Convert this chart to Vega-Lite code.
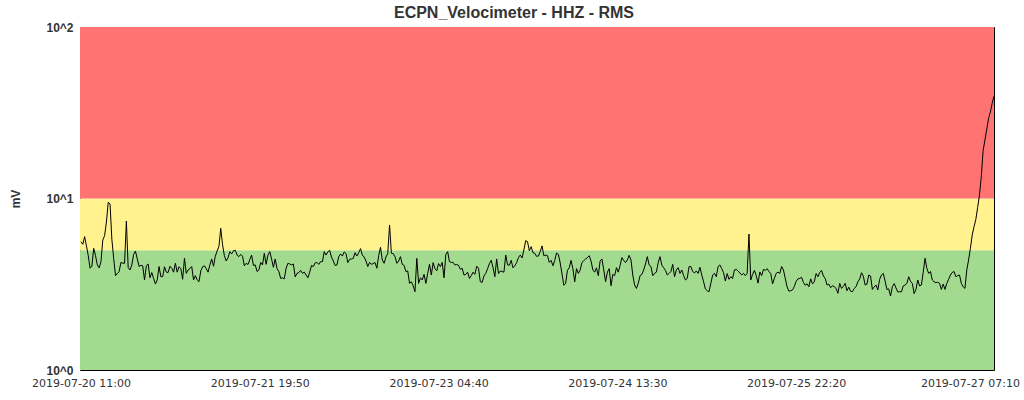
{
"$schema": "https://vega.github.io/schema/vega-lite/v6.json",
"width": 914,
"height": 343,
"autosize": {"type": "none"},
"padding": {"left": 80, "top": 27, "right": 30, "bottom": 30},
"background": "white",
"title": {"text": "ECPN_Velocimeter - HHZ - RMS", "font": "Liberation Sans", "fontSize": 16, "fontWeight": "bold", "color": "#333333", "anchor": "middle", "dx": -23, "offset": 0},
"config": {"view": {"stroke": "black", "strokeWidth": 1}, "axis": {"grid": false, "ticks": false, "domain": false}},
"layer": [
{
"data": {"values": [{"band": "green", "lo": 1, "hi": 5}, {"band": "yellow", "lo": 5, "hi": 10}, {"band": "red", "lo": 10, "hi": 100}]},
"mark": {"type": "rect"},
"encoding": {
"y": {"field": "lo", "type": "quantitative", "scale": {"type": "log", "domain": [1, 100], "nice": false},
"axis": {"title": "mV", "values": [1, 10, 100], "labelExpr": "datum.value == 1 ? '10^0' : datum.value == 10 ? '10^1' : '10^2'", "labelFont": "Liberation Sans", "labelFontSize": 12, "labelFontWeight": "bold", "labelColor": "#333333", "labelPadding": 7, "labelFlush": false, "titleFont": "Liberation Sans", "titleFontSize": 12, "titleFontWeight": "bold", "titleColor": "#333333", "titleX": -65, "titleY": 171.5, "titleAlign": "center", "titleBaseline": "middle"}},
"y2": {"field": "hi"},
"color": {"field": "band", "type": "nominal", "scale": {"domain": ["green", "yellow", "red"], "range": ["#a2da8f", "#fff28f", "#ff7373"]}, "legend": null}
}
},
{
"data": {"format": {"parse": {"t": "utc:'%Y-%m-%d %H:%M'"}}, "values": [
{"t":"2019-07-20 11:00","v":5.60},{"t":"2019-07-20 11:20","v":5.41},{"t":"2019-07-20 11:40","v":5.99},{"t":"2019-07-20 12:00","v":5.29},{"t":"2019-07-20 12:20","v":4.64},{"t":"2019-07-20 12:40","v":3.92},{"t":"2019-07-20 13:00","v":4.03},{"t":"2019-07-20 13:20","v":5.12},{"t":"2019-07-20 13:40","v":4.64},{"t":"2019-07-20 14:00","v":4.10},{"t":"2019-07-20 14:20","v":3.94},{"t":"2019-07-20 14:40","v":4.28},{"t":"2019-07-20 15:00","v":5.72},{"t":"2019-07-20 15:20","v":6.07},{"t":"2019-07-20 15:40","v":7.29},{"t":"2019-07-20 16:00","v":9.5},{"t":"2019-07-20 16:20","v":9.3},{"t":"2019-07-20 16:40","v":5.8},{"t":"2019-07-20 17:00","v":4.48},{"t":"2019-07-20 17:20","v":3.55},{"t":"2019-07-20 17:40","v":3.65},{"t":"2019-07-20 18:00","v":3.75},{"t":"2019-07-20 18:20","v":4.24},{"t":"2019-07-20 18:40","v":4.2},{"t":"2019-07-20 19:00","v":4.19},{"t":"2019-07-20 19:20","v":7.39},{"t":"2019-07-20 19:40","v":3.95},{"t":"2019-07-20 20:00","v":3.83},{"t":"2019-07-20 20:20","v":4.10},{"t":"2019-07-20 20:40","v":4.72},{"t":"2019-07-20 21:00","v":4.94},{"t":"2019-07-20 21:20","v":4.44},{"t":"2019-07-20 21:40","v":4.01},{"t":"2019-07-20 22:00","v":4.08},{"t":"2019-07-20 22:20","v":4.05},{"t":"2019-07-20 22:40","v":3.35},{"t":"2019-07-20 23:00","v":4.05},{"t":"2019-07-20 23:20","v":4.15},{"t":"2019-07-20 23:40","v":3.45},
{"t":"2019-07-21 00:00","v":3.70},{"t":"2019-07-21 00:20","v":3.42},{"t":"2019-07-21 00:40","v":3.17},{"t":"2019-07-21 01:00","v":3.35},{"t":"2019-07-21 01:20","v":4.01},{"t":"2019-07-21 01:40","v":3.50},{"t":"2019-07-21 02:00","v":3.50},{"t":"2019-07-21 02:20","v":4.00},{"t":"2019-07-21 02:40","v":3.72},{"t":"2019-07-21 03:00","v":3.70},{"t":"2019-07-21 03:20","v":4.03},{"t":"2019-07-21 03:40","v":3.92},{"t":"2019-07-21 04:00","v":3.72},{"t":"2019-07-21 04:20","v":4.19},{"t":"2019-07-21 04:40","v":3.72},{"t":"2019-07-21 05:00","v":4.00},{"t":"2019-07-21 05:20","v":3.90},{"t":"2019-07-21 05:40","v":3.38},{"t":"2019-07-21 06:00","v":4.48},{"t":"2019-07-21 06:20","v":3.66},{"t":"2019-07-21 06:40","v":3.83},{"t":"2019-07-21 07:00","v":3.90},{"t":"2019-07-21 07:20","v":4.01},{"t":"2019-07-21 07:40","v":3.35},{"t":"2019-07-21 08:00","v":3.55},{"t":"2019-07-21 08:20","v":3.35},{"t":"2019-07-21 08:40","v":3.27},{"t":"2019-07-21 09:00","v":3.78},{"t":"2019-07-21 09:20","v":4.00},{"t":"2019-07-21 09:40","v":4.05},{"t":"2019-07-21 10:00","v":3.9},{"t":"2019-07-21 10:20","v":3.72},{"t":"2019-07-21 10:40","v":4.10},{"t":"2019-07-21 11:00","v":4.44},{"t":"2019-07-21 11:20","v":4.03},{"t":"2019-07-21 11:40","v":4.60},{"t":"2019-07-21 12:00","v":4.94},{"t":"2019-07-21 12:20","v":5.26},{"t":"2019-07-21 12:40","v":6.7},{"t":"2019-07-21 13:00","v":5.36},{"t":"2019-07-21 13:20","v":4.64},{"t":"2019-07-21 13:40","v":4.32},{"t":"2019-07-21 14:00","v":4.52},{"t":"2019-07-21 14:20","v":4.90},{"t":"2019-07-21 14:40","v":4.75},{"t":"2019-07-21 15:00","v":4.96},{"t":"2019-07-21 15:20","v":4.99},{"t":"2019-07-21 15:40","v":4.68},{"t":"2019-07-21 16:00","v":4.58},{"t":"2019-07-21 16:20","v":4.72},{"t":"2019-07-21 16:40","v":4.60},{"t":"2019-07-21 17:00","v":4.05},{"t":"2019-07-21 17:20","v":4.19},{"t":"2019-07-21 17:40","v":4.12},{"t":"2019-07-21 18:00","v":4.40},{"t":"2019-07-21 18:20","v":4.68},{"t":"2019-07-21 18:40","v":4.07},{"t":"2019-07-21 19:00","v":4.10},{"t":"2019-07-21 19:20","v":3.75},{"t":"2019-07-21 19:40","v":3.83},{"t":"2019-07-21 20:00","v":4.24},{"t":"2019-07-21 20:20","v":4.10},{"t":"2019-07-21 20:40","v":4.79},{"t":"2019-07-21 21:00","v":4.13},{"t":"2019-07-21 21:20","v":4.68},{"t":"2019-07-21 21:40","v":4.90},{"t":"2019-07-21 22:00","v":4.44},{"t":"2019-07-21 22:20","v":3.97},{"t":"2019-07-21 22:40","v":4.44},{"t":"2019-07-21 23:00","v":3.90},{"t":"2019-07-21 23:20","v":3.75},{"t":"2019-07-21 23:40","v":3.42},
{"t":"2019-07-22 00:00","v":3.45},{"t":"2019-07-22 00:20","v":3.40},{"t":"2019-07-22 00:40","v":3.92},{"t":"2019-07-22 01:00","v":4.19},{"t":"2019-07-22 01:20","v":4.15},{"t":"2019-07-22 01:40","v":4.10},{"t":"2019-07-22 02:00","v":4.15},{"t":"2019-07-22 02:20","v":3.49},{"t":"2019-07-22 02:40","v":3.66},{"t":"2019-07-22 03:00","v":3.70},{"t":"2019-07-22 03:20","v":3.81},{"t":"2019-07-22 03:40","v":3.66},{"t":"2019-07-22 04:00","v":3.72},{"t":"2019-07-22 04:20","v":3.58},{"t":"2019-07-22 04:40","v":3.45},{"t":"2019-07-22 05:00","v":3.72},{"t":"2019-07-22 05:20","v":4.07},{"t":"2019-07-22 05:40","v":4.01},{"t":"2019-07-22 06:00","v":4.21},{"t":"2019-07-22 06:20","v":4.24},{"t":"2019-07-22 06:40","v":4.13},{"t":"2019-07-22 07:00","v":4.28},{"t":"2019-07-22 07:20","v":4.28},{"t":"2019-07-22 07:40","v":4.90},{"t":"2019-07-22 08:00","v":4.68},{"t":"2019-07-22 08:20","v":4.88},{"t":"2019-07-22 08:40","v":4.99},{"t":"2019-07-22 09:00","v":4.56},{"t":"2019-07-22 09:20","v":4.32},{"t":"2019-07-22 09:40","v":4.07},{"t":"2019-07-22 10:00","v":4.10},{"t":"2019-07-22 10:20","v":4.58},{"t":"2019-07-22 10:40","v":4.75},{"t":"2019-07-22 11:00","v":4.62},{"t":"2019-07-22 11:20","v":4.88},{"t":"2019-07-22 11:40","v":4.77},{"t":"2019-07-22 12:00","v":4.23},{"t":"2019-07-22 12:20","v":4.42},{"t":"2019-07-22 12:40","v":4.44},{"t":"2019-07-22 13:00","v":4.48},{"t":"2019-07-22 13:20","v":4.83},{"t":"2019-07-22 13:40","v":4.62},{"t":"2019-07-22 14:00","v":4.83},{"t":"2019-07-22 14:20","v":5.10},{"t":"2019-07-22 14:40","v":4.68},{"t":"2019-07-22 15:00","v":4.56},{"t":"2019-07-22 15:20","v":4.32},{"t":"2019-07-22 15:40","v":4.01},{"t":"2019-07-22 16:00","v":4.24},{"t":"2019-07-22 16:20","v":4.13},{"t":"2019-07-22 16:40","v":4.18},{"t":"2019-07-22 17:00","v":4.23},{"t":"2019-07-22 17:20","v":3.92},{"t":"2019-07-22 17:40","v":4.64},{"t":"2019-07-22 18:00","v":5.19},{"t":"2019-07-22 18:20","v":4.38},{"t":"2019-07-22 18:40","v":4.19},{"t":"2019-07-22 19:00","v":4.56},{"t":"2019-07-22 19:20","v":4.77},{"t":"2019-07-22 19:40","v":7.01},{"t":"2019-07-22 20:00","v":4.79},{"t":"2019-07-22 20:20","v":4.77},{"t":"2019-07-22 20:40","v":4.58},{"t":"2019-07-22 21:00","v":4.19},{"t":"2019-07-22 21:20","v":4.32},{"t":"2019-07-22 21:40","v":4.58},{"t":"2019-07-22 22:00","v":4.13},{"t":"2019-07-22 22:20","v":4.07},{"t":"2019-07-22 22:40","v":3.75},{"t":"2019-07-22 23:00","v":3.78},{"t":"2019-07-22 23:20","v":3.20},{"t":"2019-07-22 23:40","v":3.27},
{"t":"2019-07-23 00:00","v":3.10},{"t":"2019-07-23 00:20","v":2.86},{"t":"2019-07-23 00:40","v":4.48},{"t":"2019-07-23 01:00","v":3.20},{"t":"2019-07-23 01:20","v":3.45},{"t":"2019-07-23 01:40","v":3.35},{"t":"2019-07-23 02:00","v":3.61},{"t":"2019-07-23 02:20","v":3.20},{"t":"2019-07-23 02:40","v":3.65},{"t":"2019-07-23 03:00","v":4.13},{"t":"2019-07-23 03:20","v":3.58},{"t":"2019-07-23 03:40","v":4.23},{"t":"2019-07-23 04:00","v":3.90},{"t":"2019-07-23 04:20","v":3.79},{"t":"2019-07-23 04:40","v":4.17},{"t":"2019-07-23 05:00","v":4.01},{"t":"2019-07-23 05:20","v":4.24},{"t":"2019-07-23 05:40","v":3.45},{"t":"2019-07-23 06:00","v":4.72},{"t":"2019-07-23 06:20","v":4.90},{"t":"2019-07-23 06:40","v":4.28},{"t":"2019-07-23 07:00","v":4.24},{"t":"2019-07-23 07:20","v":4.24},{"t":"2019-07-23 07:40","v":4.10},{"t":"2019-07-23 08:00","v":4.12},{"t":"2019-07-23 08:20","v":4.08},{"t":"2019-07-23 08:40","v":3.86},{"t":"2019-07-23 09:00","v":3.92},{"t":"2019-07-23 09:20","v":3.58},{"t":"2019-07-23 09:40","v":3.61},{"t":"2019-07-23 10:00","v":3.72},{"t":"2019-07-23 10:20","v":3.42},{"t":"2019-07-23 10:40","v":3.55},{"t":"2019-07-23 11:00","v":3.72},{"t":"2019-07-23 11:20","v":3.61},{"t":"2019-07-23 11:40","v":4.03},{"t":"2019-07-23 12:00","v":3.92},{"t":"2019-07-23 12:20","v":3.27},{"t":"2019-07-23 12:40","v":3.24},{"t":"2019-07-23 13:00","v":3.53},{"t":"2019-07-23 13:20","v":3.66},{"t":"2019-07-23 13:40","v":3.90},{"t":"2019-07-23 14:00","v":4.17},{"t":"2019-07-23 14:20","v":4.36},{"t":"2019-07-23 14:40","v":3.95},{"t":"2019-07-23 15:00","v":3.50},{"t":"2019-07-23 15:20","v":4.44},{"t":"2019-07-23 15:40","v":3.65},{"t":"2019-07-23 16:00","v":3.78},{"t":"2019-07-23 16:20","v":3.75},{"t":"2019-07-23 16:40","v":3.72},{"t":"2019-07-23 17:00","v":4.68},{"t":"2019-07-23 17:20","v":4.10},{"t":"2019-07-23 17:40","v":4.08},{"t":"2019-07-23 18:00","v":4.36},{"t":"2019-07-23 18:20","v":3.94},{"t":"2019-07-23 18:40","v":4.05},{"t":"2019-07-23 19:00","v":4.23},{"t":"2019-07-23 19:20","v":4.52},{"t":"2019-07-23 19:40","v":4.68},{"t":"2019-07-23 20:00","v":4.50},{"t":"2019-07-23 20:20","v":5.01},{"t":"2019-07-23 20:40","v":5.68},{"t":"2019-07-23 21:00","v":5.60},{"t":"2019-07-23 21:20","v":4.96},{"t":"2019-07-23 21:40","v":5.24},{"t":"2019-07-23 22:00","v":4.83},{"t":"2019-07-23 22:20","v":4.79},{"t":"2019-07-23 22:40","v":4.60},{"t":"2019-07-23 23:00","v":4.62},{"t":"2019-07-23 23:20","v":4.9},{"t":"2019-07-23 23:40","v":5.29},
{"t":"2019-07-24 00:00","v":4.64},{"t":"2019-07-24 00:20","v":4.68},{"t":"2019-07-24 00:40","v":4.64},{"t":"2019-07-24 01:00","v":4.24},{"t":"2019-07-24 01:20","v":4.36},{"t":"2019-07-24 01:40","v":4.05},{"t":"2019-07-24 02:00","v":4.36},{"t":"2019-07-24 02:20","v":4.81},{"t":"2019-07-24 02:40","v":4.72},{"t":"2019-07-24 03:00","v":4.21},{"t":"2019-07-24 03:20","v":3.63},{"t":"2019-07-24 03:40","v":3.12},{"t":"2019-07-24 04:00","v":3.20},{"t":"2019-07-24 04:20","v":3.81},{"t":"2019-07-24 04:40","v":3.95},{"t":"2019-07-24 05:00","v":4.36},{"t":"2019-07-24 05:20","v":3.90},{"t":"2019-07-24 05:40","v":3.27},{"t":"2019-07-24 06:00","v":3.90},{"t":"2019-07-24 06:20","v":3.66},{"t":"2019-07-24 06:40","v":3.83},{"t":"2019-07-24 07:00","v":4.24},{"t":"2019-07-24 07:20","v":4.34},{"t":"2019-07-24 07:40","v":4.44},{"t":"2019-07-24 08:00","v":4.52},{"t":"2019-07-24 08:20","v":4.64},{"t":"2019-07-24 08:40","v":4.32},{"t":"2019-07-24 09:00","v":3.83},{"t":"2019-07-24 09:20","v":3.72},{"t":"2019-07-24 09:40","v":3.94},{"t":"2019-07-24 10:00","v":3.55},{"t":"2019-07-24 10:20","v":4.32},{"t":"2019-07-24 10:40","v":4.44},{"t":"2019-07-24 11:00","v":3.83},{"t":"2019-07-24 11:20","v":3.27},{"t":"2019-07-24 11:40","v":3.72},{"t":"2019-07-24 12:00","v":3.90},{"t":"2019-07-24 12:20","v":3.10},{"t":"2019-07-24 12:40","v":3.61},{"t":"2019-07-24 13:00","v":3.55},{"t":"2019-07-24 13:20","v":3.95},{"t":"2019-07-24 13:40","v":3.72},{"t":"2019-07-24 14:00","v":4.07},{"t":"2019-07-24 14:20","v":4.52},{"t":"2019-07-24 14:40","v":4.35},{"t":"2019-07-24 15:00","v":4.23},{"t":"2019-07-24 15:20","v":4.38},{"t":"2019-07-24 15:40","v":4.66},{"t":"2019-07-24 16:00","v":4.38},{"t":"2019-07-24 16:20","v":3.58},{"t":"2019-07-24 16:40","v":3.13},{"t":"2019-07-24 17:00","v":2.99},{"t":"2019-07-24 17:20","v":3.20},{"t":"2019-07-24 17:40","v":3.55},{"t":"2019-07-24 18:00","v":3.61},{"t":"2019-07-24 18:20","v":3.83},{"t":"2019-07-24 18:40","v":4.15},{"t":"2019-07-24 19:00","v":4.58},{"t":"2019-07-24 19:20","v":4.10},{"t":"2019-07-24 19:40","v":4.01},{"t":"2019-07-24 20:00","v":3.55},{"t":"2019-07-24 20:20","v":3.66},{"t":"2019-07-24 20:40","v":3.72},{"t":"2019-07-24 21:00","v":4.24},{"t":"2019-07-24 21:20","v":4.58},{"t":"2019-07-24 21:40","v":4.08},{"t":"2019-07-24 22:00","v":3.95},{"t":"2019-07-24 22:20","v":3.81},{"t":"2019-07-24 22:40","v":3.58},{"t":"2019-07-24 23:00","v":3.66},{"t":"2019-07-24 23:20","v":3.75},{"t":"2019-07-24 23:40","v":4.13},
{"t":"2019-07-25 00:00","v":3.50},{"t":"2019-07-25 00:20","v":3.83},{"t":"2019-07-25 00:40","v":3.95},{"t":"2019-07-25 01:00","v":3.66},{"t":"2019-07-25 01:20","v":3.83},{"t":"2019-07-25 01:40","v":3.55},{"t":"2019-07-25 02:00","v":3.35},{"t":"2019-07-25 02:20","v":3.42},{"t":"2019-07-25 02:40","v":4.01},{"t":"2019-07-25 03:00","v":4.01},{"t":"2019-07-25 03:20","v":3.75},{"t":"2019-07-25 03:40","v":3.68},{"t":"2019-07-25 04:00","v":3.78},{"t":"2019-07-25 04:20","v":3.66},{"t":"2019-07-25 04:40","v":3.97},{"t":"2019-07-25 05:00","v":3.58},{"t":"2019-07-25 05:20","v":3.27},{"t":"2019-07-25 05:40","v":2.97},{"t":"2019-07-25 06:00","v":2.9},{"t":"2019-07-25 06:20","v":2.86},{"t":"2019-07-25 06:40","v":3.20},{"t":"2019-07-25 07:00","v":3.58},{"t":"2019-07-25 07:20","v":3.66},{"t":"2019-07-25 07:40","v":3.50},{"t":"2019-07-25 08:00","v":4.01},{"t":"2019-07-25 08:20","v":4.10},{"t":"2019-07-25 08:40","v":3.90},{"t":"2019-07-25 09:00","v":3.70},{"t":"2019-07-25 09:20","v":3.30},{"t":"2019-07-25 09:40","v":3.65},{"t":"2019-07-25 10:00","v":3.38},{"t":"2019-07-25 10:20","v":3.50},{"t":"2019-07-25 10:40","v":3.42},{"t":"2019-07-25 11:00","v":3.83},{"t":"2019-07-25 11:20","v":3.86},{"t":"2019-07-25 11:40","v":3.78},{"t":"2019-07-25 12:00","v":3.68},{"t":"2019-07-25 12:20","v":3.58},{"t":"2019-07-25 12:40","v":3.66},{"t":"2019-07-25 13:00","v":3.55},{"t":"2019-07-25 13:20","v":3.66},{"t":"2019-07-25 13:40","v":6.2},{"t":"2019-07-25 14:00","v":3.35},{"t":"2019-07-25 14:20","v":3.61},{"t":"2019-07-25 14:40","v":3.81},{"t":"2019-07-25 15:00","v":3.55},{"t":"2019-07-25 15:20","v":3.21},{"t":"2019-07-25 15:40","v":3.73},{"t":"2019-07-25 16:00","v":3.55},{"t":"2019-07-25 16:20","v":3.86},{"t":"2019-07-25 16:40","v":3.81},{"t":"2019-07-25 17:00","v":3.90},{"t":"2019-07-25 17:20","v":3.75},{"t":"2019-07-25 17:40","v":3.65},{"t":"2019-07-25 18:00","v":3.18},{"t":"2019-07-25 18:20","v":3.42},{"t":"2019-07-25 18:40","v":3.66},{"t":"2019-07-25 19:00","v":3.72},{"t":"2019-07-25 19:20","v":3.66},{"t":"2019-07-25 19:40","v":4.01},{"t":"2019-07-25 20:00","v":3.83},{"t":"2019-07-25 20:20","v":3.42},{"t":"2019-07-25 20:40","v":3.06},{"t":"2019-07-25 21:00","v":2.88},{"t":"2019-07-25 21:20","v":2.9},{"t":"2019-07-25 21:40","v":2.93},{"t":"2019-07-25 22:00","v":3.07},{"t":"2019-07-25 22:20","v":3.29},{"t":"2019-07-25 22:40","v":3.40},{"t":"2019-07-25 23:00","v":3.42},{"t":"2019-07-25 23:20","v":3.47},{"t":"2019-07-25 23:40","v":3.24},
{"t":"2019-07-26 00:00","v":3.12},{"t":"2019-07-26 00:20","v":3.18},{"t":"2019-07-26 00:40","v":3.06},{"t":"2019-07-26 01:00","v":3.40},{"t":"2019-07-26 01:20","v":3.18},{"t":"2019-07-26 01:40","v":3.27},{"t":"2019-07-26 02:00","v":3.65},{"t":"2019-07-26 02:20","v":3.50},{"t":"2019-07-26 02:40","v":3.70},{"t":"2019-07-26 03:00","v":3.81},{"t":"2019-07-26 03:20","v":3.53},{"t":"2019-07-26 03:40","v":3.42},{"t":"2019-07-26 04:00","v":3.13},{"t":"2019-07-26 04:20","v":3.17},{"t":"2019-07-26 04:40","v":3.02},{"t":"2019-07-26 05:00","v":3.10},{"t":"2019-07-26 05:20","v":3.06},{"t":"2019-07-26 05:40","v":2.99},{"t":"2019-07-26 06:00","v":2.80},{"t":"2019-07-26 06:20","v":3.20},{"t":"2019-07-26 06:40","v":2.99},{"t":"2019-07-26 07:00","v":3.07},{"t":"2019-07-26 07:20","v":3.20},{"t":"2019-07-26 07:40","v":2.90},{"t":"2019-07-26 08:00","v":3.04},{"t":"2019-07-26 08:20","v":2.88},{"t":"2019-07-26 08:40","v":2.86},{"t":"2019-07-26 09:00","v":2.99},{"t":"2019-07-26 09:20","v":3.06},{"t":"2019-07-26 09:40","v":3.27},{"t":"2019-07-26 10:00","v":3.39},{"t":"2019-07-26 10:20","v":3.69},{"t":"2019-07-26 10:40","v":3.53},{"t":"2019-07-26 11:00","v":3.13},{"t":"2019-07-26 11:20","v":3.17},{"t":"2019-07-26 11:40","v":3.58},{"t":"2019-07-26 12:00","v":3.53},{"t":"2019-07-26 12:20","v":2.95},{"t":"2019-07-26 12:40","v":3.05},{"t":"2019-07-26 13:00","v":3.13},{"t":"2019-07-26 13:20","v":2.93},{"t":"2019-07-26 13:40","v":3.38},{"t":"2019-07-26 14:00","v":3.58},{"t":"2019-07-26 14:20","v":3.66},{"t":"2019-07-26 14:40","v":3.30},{"t":"2019-07-26 15:00","v":2.95},{"t":"2019-07-26 15:20","v":2.97},{"t":"2019-07-26 15:40","v":2.70},{"t":"2019-07-26 16:00","v":3.06},{"t":"2019-07-26 16:20","v":3.19},{"t":"2019-07-26 16:40","v":3.01},{"t":"2019-07-26 17:00","v":2.85},{"t":"2019-07-26 17:20","v":2.86},{"t":"2019-07-26 17:40","v":2.86},{"t":"2019-07-26 18:00","v":3.09},{"t":"2019-07-26 18:20","v":3.13},{"t":"2019-07-26 18:40","v":3.20},{"t":"2019-07-26 19:00","v":3.50},{"t":"2019-07-26 19:20","v":3.29},{"t":"2019-07-26 19:40","v":3.20},{"t":"2019-07-26 20:00","v":2.79},{"t":"2019-07-26 20:20","v":2.95},{"t":"2019-07-26 20:40","v":3.35},{"t":"2019-07-26 21:00","v":3.09},{"t":"2019-07-26 21:20","v":3.13},{"t":"2019-07-26 21:40","v":3.71},{"t":"2019-07-26 22:00","v":4.48},{"t":"2019-07-26 22:20","v":3.92},{"t":"2019-07-26 22:40","v":3.66},{"t":"2019-07-26 23:00","v":3.75},{"t":"2019-07-26 23:20","v":3.35},{"t":"2019-07-26 23:40","v":3.27},
{"t":"2019-07-27 00:00","v":3.23},{"t":"2019-07-27 00:20","v":3.25},{"t":"2019-07-27 00:40","v":3.20},{"t":"2019-07-27 01:00","v":2.95},{"t":"2019-07-27 01:20","v":3.17},{"t":"2019-07-27 01:40","v":2.95},{"t":"2019-07-27 02:00","v":3.20},{"t":"2019-07-27 02:20","v":3.38},{"t":"2019-07-27 02:40","v":3.58},{"t":"2019-07-27 03:00","v":3.71},{"t":"2019-07-27 03:20","v":3.75},{"t":"2019-07-27 03:40","v":3.50},{"t":"2019-07-27 04:00","v":3.55},{"t":"2019-07-27 04:20","v":3.58},{"t":"2019-07-27 04:40","v":3.20},{"t":"2019-07-27 05:00","v":3.06},{"t":"2019-07-27 05:20","v":2.99},{"t":"2019-07-27 05:40","v":3.83},{"t":"2019-07-27 06:00","v":4.38},{"t":"2019-07-27 06:20","v":5.12},{"t":"2019-07-27 06:40","v":6.13},{"t":"2019-07-27 07:00","v":6.85},{"t":"2019-07-27 07:20","v":7.56},{"t":"2019-07-27 07:40","v":8.88},{"t":"2019-07-27 08:00","v":10.48},{"t":"2019-07-27 08:20","v":13.41},{"t":"2019-07-27 08:40","v":19.0},{"t":"2019-07-27 09:00","v":21.9},{"t":"2019-07-27 09:20","v":25.3},{"t":"2019-07-27 09:40","v":29.3},{"t":"2019-07-27 10:00","v":31.9},{"t":"2019-07-27 10:20","v":35.9},{"t":"2019-07-27 10:40","v":39.5}
]},
"mark": {"type": "line", "color": "black", "strokeWidth": 1},
"encoding": {
"x": {"field": "t", "type": "temporal", "scale": {"type": "utc", "domain": [1563619740000, 1564224000000], "nice": false},
"axis": {"title": null, "values": [1563620400000, 1563738600000, 1563856800000, 1563975000000, 1564093200000, 1564211400000], "labelExpr": "utcFormat(datum.value, '%Y-%m-%d %H:%M')", "labelFont": "DejaVu Sans", "labelFontSize": 11, "labelColor": "#333333", "labelPadding": 7, "labelFlush": false, "labelOverlap": false, "labelOffset": {"condition": {"test": "datum.value > 1564200000000", "value": -5}, "value": 0}}},
"y": {"field": "v", "type": "quantitative", "axis": {"title": "mV", "values": [1, 10, 100], "labelExpr": "datum.value == 1 ? '10^0' : datum.value == 10 ? '10^1' : '10^2'", "labelFont": "Liberation Sans", "labelFontSize": 12, "labelFontWeight": "bold", "labelColor": "#333333", "labelPadding": 7, "labelFlush": false, "titleFont": "Liberation Sans", "titleFontSize": 12, "titleFontWeight": "bold", "titleColor": "#333333", "titleX": -65, "titleY": 171.5, "titleAlign": "center", "titleBaseline": "middle"}}
}
}
]
}
